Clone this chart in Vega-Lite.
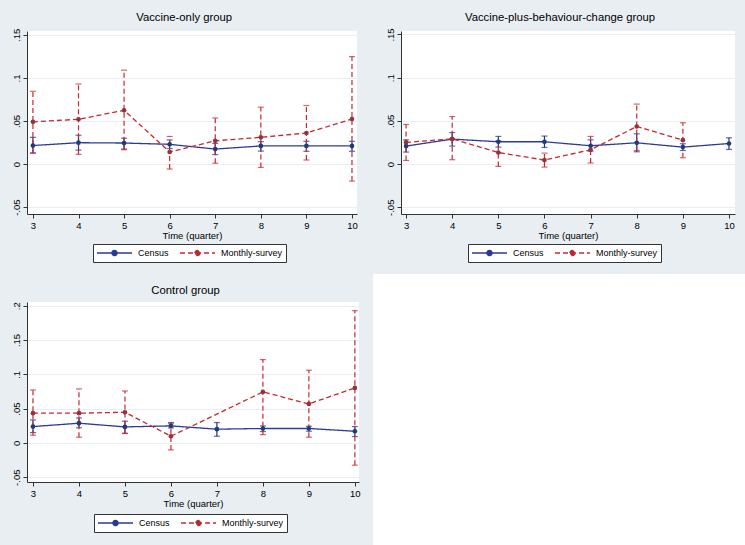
{
  "$schema": "https://vega.github.io/schema/vega-lite/v6.json",
  "background": "#E8EEF2",
  "padding": {"left": 11, "top": 11, "right": 0, "bottom": 0},
  "config": {
    "font": "Liberation Sans",
    "view": {"stroke": null},
    "axis": {
      "labelFont": "Liberation Sans", "labelFontSize": 9.5, "labelColor": "#000",
      "titleFont": "Liberation Sans", "titleFontSize": 9.5, "titleFontWeight": "normal", "titleColor": "#000",
      "domainColor": "#333", "tickColor": "#333", "tickSize": 4, "labelPadding": 2,
      "gridColor": "#E8EEF2", "gridWidth": 1, "labelOverlap": false
    },
    "axisX": {"grid": false, "titlePadding": 1},
    "axisY": {"grid": true, "labelAngle": 270, "labelAlign": "center", "labelBaseline": "bottom", "labelSeparation": -40},
    "title": {"font": "Liberation Sans", "fontSize": 11.3, "fontWeight": "normal", "color": "#000", "offset": 5, "frame": "bounds"},
    "legend": {
      "orient": "none", "legendX": 66, "legendY": 213, "direction": "horizontal", "columns": 2,
      "symbolType": "M-1,0H1M-0.15,0A0.15,0.15,0,1,1,0.15,0A0.15,0.15,0,1,1,-0.15,0Z",
      "symbolSize": 1225, "symbolStrokeWidth": 1.3, "clipHeight": 12,
      "labelFont": "Liberation Sans", "labelFontSize": 9, "labelColor": "#000", "labelOffset": 5,
      "columnPadding": 10, "padding": 3, "fillColor": "white", "strokeColor": "#333", "rowPadding": 0
    }
  },
  "data": {
    "values": [
      {"panel": "A", "series": "Census", "t": 3, "est": 0.0215, "lo": 0.0128, "hi": 0.031},
      {"panel": "A", "series": "Census", "t": 4, "est": 0.0248, "lo": 0.0162, "hi": 0.0335},
      {"panel": "A", "series": "Census", "t": 5, "est": 0.0244, "lo": 0.0174, "hi": 0.030},
      {"panel": "A", "series": "Census", "t": 6, "est": 0.0229, "lo": 0.018, "hi": 0.028},
      {"panel": "A", "series": "Census", "t": 7, "est": 0.0174, "lo": 0.011, "hi": 0.024},
      {"panel": "A", "series": "Census", "t": 8, "est": 0.021, "lo": 0.015, "hi": 0.026},
      {"panel": "A", "series": "Census", "t": 9, "est": 0.021, "lo": 0.0148, "hi": 0.0264},
      {"panel": "A", "series": "Census", "t": 10, "est": 0.021, "lo": 0.0148, "hi": 0.0264},
      {"panel": "A", "series": "Monthly-survey", "t": 3, "est": 0.049, "lo": 0.0128, "hi": 0.0845},
      {"panel": "A", "series": "Monthly-survey", "t": 4, "est": 0.052, "lo": 0.0113, "hi": 0.093},
      {"panel": "A", "series": "Monthly-survey", "t": 5, "est": 0.0624, "lo": 0.0166, "hi": 0.109},
      {"panel": "A", "series": "Monthly-survey", "t": 6, "est": 0.014, "lo": -0.0058, "hi": 0.032},
      {"panel": "A", "series": "Monthly-survey", "t": 7, "est": 0.027, "lo": 0.001, "hi": 0.0535},
      {"panel": "A", "series": "Monthly-survey", "t": 8, "est": 0.031, "lo": -0.004, "hi": 0.066},
      {"panel": "A", "series": "Monthly-survey", "t": 9, "est": 0.036, "lo": 0.0047, "hi": 0.068},
      {"panel": "A", "series": "Monthly-survey", "t": 10, "est": 0.0523, "lo": -0.0198, "hi": 0.1248},
      {"panel": "B", "series": "Census", "t": 3, "est": 0.0208, "lo": 0.0139, "hi": 0.028},
      {"panel": "B", "series": "Census", "t": 4, "est": 0.0289, "lo": 0.0208, "hi": 0.0365},
      {"panel": "B", "series": "Census", "t": 5, "est": 0.0258, "lo": 0.0196, "hi": 0.032},
      {"panel": "B", "series": "Census", "t": 6, "est": 0.0258, "lo": 0.0192, "hi": 0.0324},
      {"panel": "B", "series": "Census", "t": 7, "est": 0.0212, "lo": 0.015, "hi": 0.0281},
      {"panel": "B", "series": "Census", "t": 8, "est": 0.0246, "lo": 0.0142, "hi": 0.035},
      {"panel": "B", "series": "Census", "t": 9, "est": 0.0196, "lo": 0.0157, "hi": 0.0235},
      {"panel": "B", "series": "Census", "t": 10, "est": 0.0238, "lo": 0.0169, "hi": 0.0304},
      {"panel": "B", "series": "Monthly-survey", "t": 3, "est": 0.025, "lo": 0.0042, "hi": 0.0458},
      {"panel": "B", "series": "Monthly-survey", "t": 4, "est": 0.0292, "lo": 0.005, "hi": 0.055},
      {"panel": "B", "series": "Monthly-survey", "t": 5, "est": 0.0134, "lo": -0.0027, "hi": 0.027},
      {"panel": "B", "series": "Monthly-survey", "t": 6, "est": 0.0046, "lo": -0.0035, "hi": 0.0127},
      {"panel": "B", "series": "Monthly-survey", "t": 7, "est": 0.0165, "lo": 0.0012, "hi": 0.032},
      {"panel": "B", "series": "Monthly-survey", "t": 8, "est": 0.0435, "lo": 0.0157, "hi": 0.0694},
      {"panel": "B", "series": "Monthly-survey", "t": 9, "est": 0.0277, "lo": 0.0073, "hi": 0.0478},
      {"panel": "C", "series": "Census", "t": 3, "est": 0.0238, "lo": 0.015, "hi": 0.0335},
      {"panel": "C", "series": "Census", "t": 4, "est": 0.0287, "lo": 0.022, "hi": 0.0364},
      {"panel": "C", "series": "Census", "t": 5, "est": 0.0233, "lo": 0.0141, "hi": 0.0316},
      {"panel": "C", "series": "Census", "t": 6, "est": 0.0248, "lo": 0.0218, "hi": 0.0297},
      {"panel": "C", "series": "Census", "t": 7, "est": 0.020, "lo": 0.0097, "hi": 0.0297},
      {"panel": "C", "series": "Census", "t": 8, "est": 0.021, "lo": 0.0165, "hi": 0.0248},
      {"panel": "C", "series": "Census", "t": 9, "est": 0.021, "lo": 0.017, "hi": 0.0243},
      {"panel": "C", "series": "Census", "t": 10, "est": 0.017, "lo": 0.0093, "hi": 0.0238},
      {"panel": "C", "series": "Monthly-survey", "t": 3, "est": 0.0433, "lo": 0.0112, "hi": 0.0772},
      {"panel": "C", "series": "Monthly-survey", "t": 4, "est": 0.0433, "lo": 0.0083, "hi": 0.0787},
      {"panel": "C", "series": "Monthly-survey", "t": 5, "est": 0.0447, "lo": 0.0136, "hi": 0.0757},
      {"panel": "C", "series": "Monthly-survey", "t": 6, "est": 0.0097, "lo": -0.0102, "hi": 0.028},
      {"panel": "C", "series": "Monthly-survey", "t": 8, "est": 0.0743, "lo": 0.012, "hi": 0.1214},
      {"panel": "C", "series": "Monthly-survey", "t": 9, "est": 0.0568, "lo": 0.0083, "hi": 0.1059},
      {"panel": "C", "series": "Monthly-survey", "t": 10, "est": 0.0801, "lo": -0.0325, "hi": 0.1928}
    ]
  },
  "bounds": "flush",
  "spacing": 271,
  "resolve": {"scale": {"color": "independent", "strokeDash": "independent", "fill": "independent"}, "legend": {"color": "independent", "strokeDash": "independent"}},
  "vconcat": [
    {
      "bounds": "flush",
      "spacing": 44,
      "resolve": {"scale": {"color": "independent", "strokeDash": "independent", "fill": "independent"}, "legend": {"color": "independent", "strokeDash": "independent"}},
      "hconcat": [
        {
          "title": "Vaccine-only group",
          "width": 330, "height": 183,
          "view": {"fill": "white"},
          "transform": [{"filter": "datum.panel == 'A'"}],
          "encoding": {"x": {"field": "t", "type": "quantitative", "title": "Time (quarter)", "scale": {"domain": [2.87, 10.11], "nice": false, "zero": false}, "axis": {"values": [3, 4, 5, 6, 7, 8, 9, 10], "format": "d"}}},
          "layer": [
            {"transform": [{"filter": "datum.series == 'Census'"}],
             "mark": {"type": "errorbar", "color": "#1f2d86", "ticks": {"size": 6}, "thickness": 1.2},
             "encoding": {"y": {"field": "lo", "type": "quantitative", "title": null, "scale": {"domain": [-0.058, 0.1545], "nice": false, "zero": false}, "axis": {"values": [-0.05, 0, 0.05, 0.1, 0.15], "labelOverlap": false, "labelExpr": "replace(toString(datum.value), '0.', '.')"}}, "y2": {"field": "hi"}}},
            {"transform": [{"filter": "datum.series == 'Monthly-survey'"}],
             "mark": {"type": "errorbar", "color": "#c8272e", "ticks": {"size": 6}, "thickness": 1.2, "rule": {"strokeDash": [5, 3]}},
             "encoding": {"y": {"field": "lo", "type": "quantitative", "title": null}, "y2": {"field": "hi"}}},
            {"mark": {"type": "line", "strokeWidth": 1.3},
             "encoding": {"y": {"field": "est", "type": "quantitative", "title": null},
               "color": {"field": "series", "type": "nominal", "scale": {"domain": ["Census", "Monthly-survey"], "range": ["#2b3a9b", "#c8272e"]}, "legend": {"title": null, "encode": {"symbols": {"update": {"fill": {"signal": "datum.value === 'Census' ? '#1a3f75' : '#90353b'"}}}}}},
               "strokeDash": {"field": "series", "type": "nominal", "scale": {"domain": ["Census", "Monthly-survey"], "range": [[1, 0], [5, 3]]}, "legend": {"title": null}}}},
            {"mark": {"type": "point", "filled": true, "size": 22, "opacity": 1},
             "encoding": {"y": {"field": "est", "type": "quantitative", "title": null},
               "fill": {"field": "series", "type": "nominal", "scale": {"domain": ["Census", "Monthly-survey"], "range": ["#1a3f75", "#90353b"]}, "legend": null}}}
          ]
        },
        {
          "title": "Vaccine-plus-behaviour-change group",
          "width": 334, "height": 183,
          "view": {"fill": "white"},
          "transform": [{"filter": "datum.panel == 'B'"}],
          "encoding": {"x": {"field": "t", "type": "quantitative", "title": "Time (quarter)", "scale": {"domain": [2.89, 10.13], "nice": false, "zero": false}, "axis": {"values": [3, 4, 5, 6, 7, 8, 9, 10], "format": "d"}}},
          "layer": [
            {"transform": [{"filter": "datum.series == 'Census'"}],
             "mark": {"type": "errorbar", "color": "#1f2d86", "ticks": {"size": 6}, "thickness": 1.2},
             "encoding": {"y": {"field": "lo", "type": "quantitative", "title": null, "scale": {"domain": [-0.0578, 0.154], "nice": false, "zero": false}, "axis": {"values": [-0.05, 0, 0.05, 0.1, 0.15], "labelOverlap": false, "labelExpr": "replace(toString(datum.value), '0.', '.')"}}, "y2": {"field": "hi"}}},
            {"transform": [{"filter": "datum.series == 'Monthly-survey'"}],
             "mark": {"type": "errorbar", "color": "#c8272e", "ticks": {"size": 6}, "thickness": 1.2, "rule": {"strokeDash": [5, 3]}},
             "encoding": {"y": {"field": "lo", "type": "quantitative", "title": null}, "y2": {"field": "hi"}}},
            {"mark": {"type": "line", "strokeWidth": 1.3},
             "encoding": {"y": {"field": "est", "type": "quantitative", "title": null},
               "color": {"field": "series", "type": "nominal", "scale": {"domain": ["Census", "Monthly-survey"], "range": ["#2b3a9b", "#c8272e"]}, "legend": {"title": null, "legendX": 67, "encode": {"symbols": {"update": {"fill": {"signal": "datum.value === 'Census' ? '#1a3f75' : '#90353b'"}}}}}},
               "strokeDash": {"field": "series", "type": "nominal", "scale": {"domain": ["Census", "Monthly-survey"], "range": [[1, 0], [5, 3]]}, "legend": {"title": null, "legendX": 67}}}},
            {"mark": {"type": "point", "filled": true, "size": 22, "opacity": 1},
             "encoding": {"y": {"field": "est", "type": "quantitative", "title": null},
               "fill": {"field": "series", "type": "nominal", "scale": {"domain": ["Census", "Monthly-survey"], "range": ["#1a3f75", "#90353b"]}, "legend": null}}}
          ]
        }
      ]
    },
    {
      "bounds": "flush",
      "spacing": 42,
      "resolve": {"scale": {"color": "independent", "strokeDash": "independent", "fill": "independent"}, "legend": {"color": "independent", "strokeDash": "independent"}},
      "hconcat": [
        {
          "title": "Control group",
          "width": 332, "height": 180,
          "view": {"fill": "white"},
          "transform": [{"filter": "datum.panel == 'C'"}],
          "encoding": {
            "x": {"field": "t", "type": "quantitative", "title": "Time (quarter)", "scale": {"domain": [2.87, 10.09], "nice": false, "zero": false}, "axis": {"values": [3, 4, 5, 6, 7, 8, 9, 10], "format": "d"}},
            "y": {"field": "est", "type": "quantitative", "title": null, "scale": {"domain": [-0.057, 0.2054], "nice": false, "zero": false}, "axis": {"values": [-0.05, 0, 0.05, 0.1, 0.15, 0.2], "labelOverlap": false, "labelSeparation": -40, "labelExpr": "replace(toString(datum.value), '0.', '.')"}}
          },
          "layer": [
            {"transform": [{"filter": "datum.series == 'Census'"}],
             "mark": {"type": "errorbar", "color": "#1f2d86", "ticks": {"size": 6}, "thickness": 1.2},
             "encoding": {"y": {"field": "lo", "type": "quantitative", "title": null}, "y2": {"field": "hi"}}},
            {"transform": [{"filter": "datum.series == 'Monthly-survey'"}],
             "mark": {"type": "errorbar", "color": "#c8272e", "ticks": {"size": 6}, "thickness": 1.2, "rule": {"strokeDash": [5, 3]}},
             "encoding": {"y": {"field": "lo", "type": "quantitative", "title": null}, "y2": {"field": "hi"}}},
            {"mark": {"type": "line", "strokeWidth": 1.3},
             "encoding": {
               "color": {"field": "series", "type": "nominal", "scale": {"domain": ["Census", "Monthly-survey"], "range": ["#2b3a9b", "#c8272e"]}, "legend": {"title": null, "legendX": 67, "legendY": 212, "encode": {"symbols": {"update": {"fill": {"signal": "datum.value === 'Census' ? '#1a3f75' : '#90353b'"}}}}}},
               "strokeDash": {"field": "series", "type": "nominal", "scale": {"domain": ["Census", "Monthly-survey"], "range": [[1, 0], [5, 3]]}, "legend": {"title": null, "legendX": 67, "legendY": 212}}}},
            {"mark": {"type": "point", "filled": true, "size": 22, "opacity": 1},
             "encoding": {
               "fill": {"field": "series", "type": "nominal", "scale": {"domain": ["Census", "Monthly-survey"], "range": ["#1a3f75", "#90353b"]}, "legend": null}}}
          ]
        },
        {
          "width": 344, "height": 268,
          "data": {"values": []},
          "mark": "point",
          "view": {"fill": "white", "stroke": "white", "strokeWidth": 56}
        }
      ]
    }
  ]
}
